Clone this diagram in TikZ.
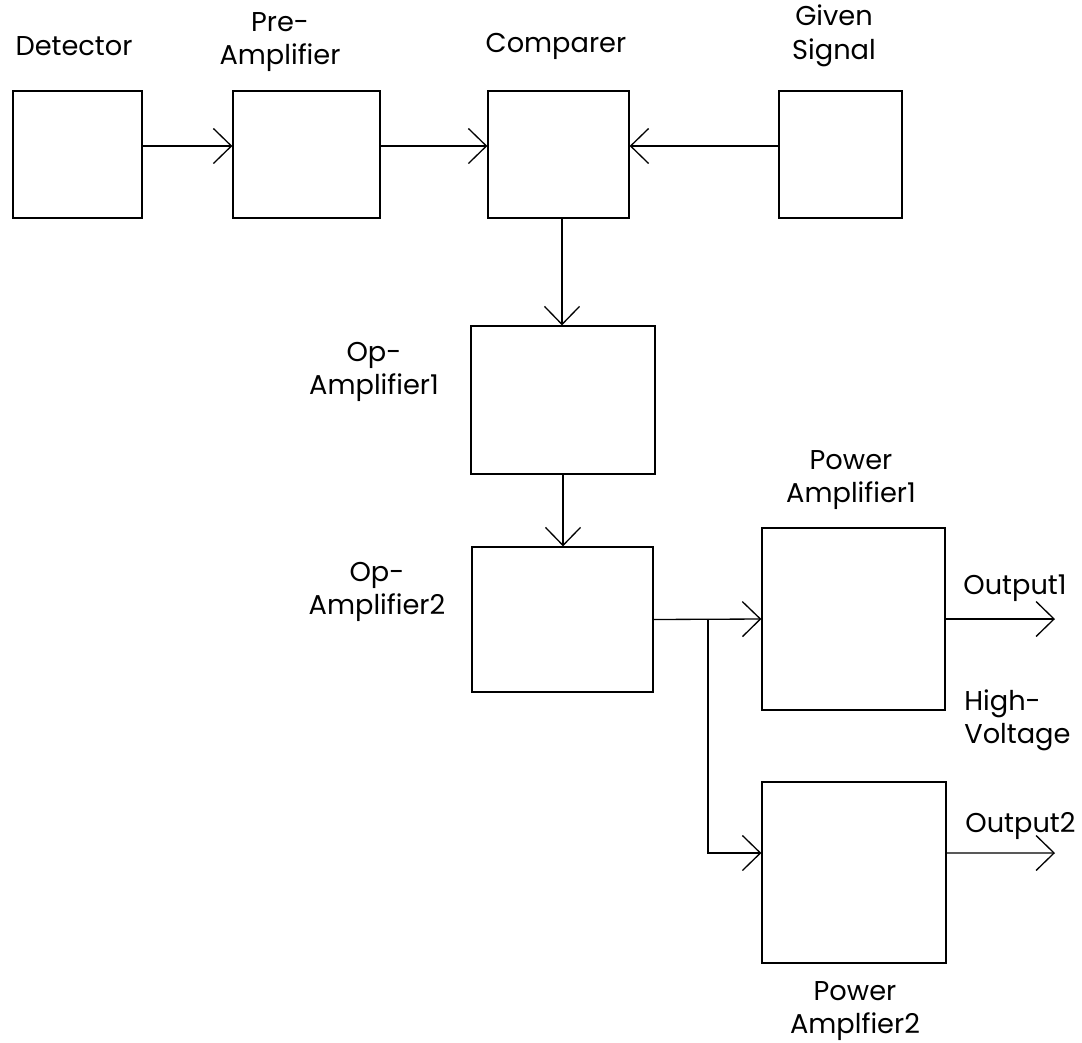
\documentclass[tikz,border=0pt]{standalone}
\usepackage{fontspec}
\setmainfont{Poppins}
\usepackage{tikz}
\usetikzlibrary{positioning,arrows.meta,calc}

\begin{document}
\begin{tikzpicture}[
  x=0.02cm, y=-0.02cm,
  font=\fontsize{15.5}{19}\selectfont,
  >={Straight Barb[length=3.6mm, width=7mm]},
  box/.style={draw, line width=0.75pt, inner sep=0pt, minimum height=2.54cm},
  flow/.style={->, line width=0.75pt},
  lbl/.style={align=center, inner sep=0pt},
]
\useasboundingbox (0,0) rectangle (1082,1042);

% ---- blocks ----
\node[box, minimum width=2.58cm] (det) at (77.5,154.5) {};
\node[box, minimum width=2.94cm] (pre) at (306.5,154.5) {};
\node[box, minimum width=2.82cm] (cmp) at (558.5,154.5) {};
\node[box, minimum width=2.46cm] (sig) at (840.5,154.5) {};
\node[box, minimum width=3.68cm, minimum height=2.96cm] (op1) at (563,400) {};
\node[box, minimum width=3.62cm, minimum height=2.90cm] (op2) at (562.5,619.5) {};
\node[box, minimum width=3.66cm, minimum height=3.64cm] (pa1) at (853.5,619) {};
\node[box, minimum width=3.68cm, minimum height=3.62cm] (pa2) at (854,872.5) {};

% ---- labels ----
\node[lbl] (ldet) at (74,46) {Detector};
\node[lbl] (lpre) at (280,42) {Pre-\\Amplifier};
\node[lbl] (lcmp) at (556,46) {Comparer};
\node[lbl] (lsig) at (834,36) {Given\\Signal};
\node[lbl] (lop1) at (374,372) {Op-\\Amplifier1};
\node[lbl] (lop2) at (377,592) {Op-\\Amplifier2};
\node[lbl] (lpa1) at (851,480) {Power\\Amplifier1};
\node[lbl] (lpa2) at (855,1011) {Power\\Amplfier2};
\node[lbl, anchor=west] (lout1) at (963,588) {Output1};
\node[lbl, anchor=west] (lout2) at (965,826) {Output2};
\node[lbl, anchor=west, align=left] (lhv) at (964,720) {High-\\Voltage};

% ---- end points ----
\coordinate (br) at (708,619.5);
\coordinate (out1) at (1055,619);
\coordinate (out2) at (1055,853);

% ---- flows ----
\draw[flow] ([yshift=0.17cm]det.east) -- ([yshift=0.17cm]pre.west);
\draw[flow] ([yshift=0.17cm]pre.east) -- ([yshift=0.17cm]cmp.west);
\draw[flow] ([yshift=0.17cm]sig.west) -- ([yshift=0.17cm]cmp.east);
\draw[flow] ([xshift=0.07cm]cmp.south) -- ([xshift=0.07cm]cmp.south |- op1.north);
\draw[flow] (op1.south) -- (op1.south |- op2.north);
\draw[flow] (op2.east) -- (pa1.west);
\draw[flow] (br) |- ([yshift=0.39cm]pa2.west);
\draw[flow] (pa1.east) -- (out1);
\draw[flow] ([yshift=0.39cm]pa2.east) -- (out2);
\end{tikzpicture}
\end{document}
